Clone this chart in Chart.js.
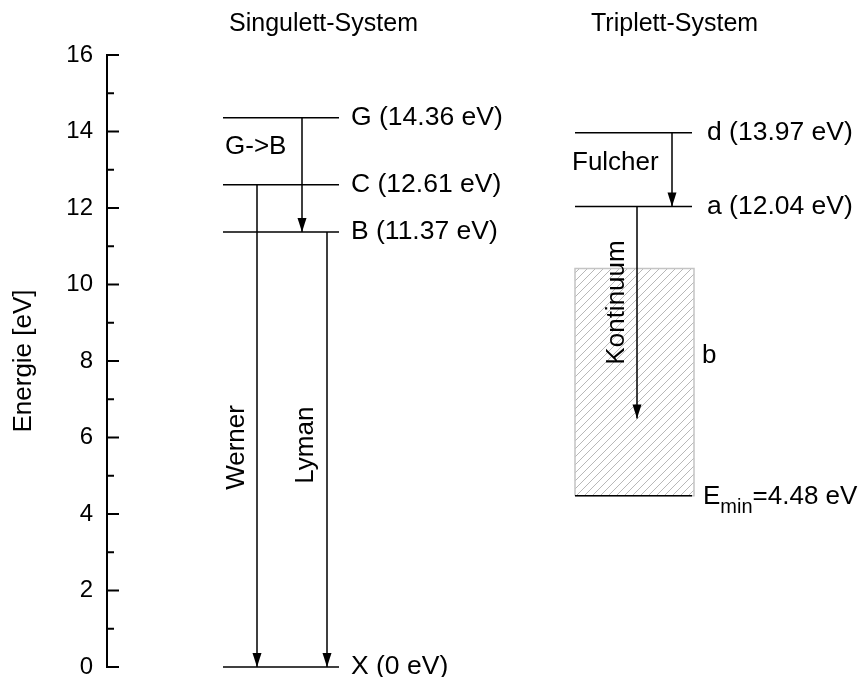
<!DOCTYPE html>
<html><head><meta charset="utf-8">
<script src="https://cdn.jsdelivr.net/npm/chart.js@4"></script>
<style>html,body{margin:0;padding:0;background:#fff}#wrap{width:866px;height:677px}</style>
</head><body><div id="wrap"><canvas id="c"></canvas></div>
<script>
// ---- data ----
const levelNames = ['G', 'C', 'B', 'X', 'd', 'a'];
const levelEnergies = [14.36, 12.61, 11.37, 0, 13.97, 12.04];
const levelSystems = ['S', 'S', 'S', 'S', 'T', 'T'];
const levelLabels = ['G (14.36 eV)', 'C (12.61 eV)', 'B (11.37 eV)', 'X (0 eV)', 'd (13.97 eV)', 'a (12.04 eV)'];
const transitionNames = ['Werner', 'Lyman', 'G->B', 'Fulcher', 'Kontinuum'];
const transitionFrom = [12.61, 11.37, 14.36, 13.97, 12.04];
const transitionTo = [0, 0, 11.37, 12.04, 6.5];
const continuumTop = [10.42];
const continuumBottom = [4.48];
const continuumLabel = 'b';
const eminLabel = ['E', 'min', '=4.48 eV'];
const yTickLabels = [0, 2, 4, 6, 8, 10, 12, 14, 16];
const systemTitles = ['Singulett-System', 'Triplett-System'];
const axisTitle = 'Energie [eV]';

// ---- layout (positions, in x-scale units) ----
const FONT = "'Liberation Sans', Arial, sans-serif";
const cols = {
  S: {left: 223, right: 339, label: 351},
  T: {left: 575, right: 692, label: 707}
};
const transitionX = [257, 327, 302, 672, 637];
const boxX = [575, 694];

// hatch pattern
function makeHatch() {
  const c = document.createElement('canvas');
  c.width = 8; c.height = 8;
  const g = c.getContext('2d');
  g.strokeStyle = '#b8b8b8';
  g.lineWidth = 1;
  g.beginPath();
  g.moveTo(0, 8); g.lineTo(8, 0);
  g.moveTo(-2, 2); g.lineTo(2, -2);
  g.moveTo(6, 10); g.lineTo(10, 6);
  g.stroke();
  return document.getElementById('c').getContext('2d').createPattern(c, 'repeat');
}

const datasets = [];
levelEnergies.forEach((e, i) => {
  const c = cols[levelSystems[i]];
  datasets.push({label: levelNames[i], data: [{x: c.left, y: e}, {x: c.right, y: e}],
    borderColor: '#000', borderWidth: 1.5, pointRadius: 0, fill: false, clip: false, order: 1});
});
transitionFrom.forEach((f, i) => {
  datasets.push({label: transitionNames[i], arrow: true,
    data: [{x: transitionX[i], y: f}, {x: transitionX[i], y: transitionTo[i]}],
    borderColor: '#000', borderWidth: 1.5, pointRadius: 0, fill: false, clip: false, order: 2});
});
// continuum box
datasets.push({label: 'continuum', data: [
    {x: boxX[0], y: continuumBottom[0]}, {x: boxX[0], y: continuumTop[0]},
    {x: boxX[1], y: continuumTop[0]}, {x: boxX[1], y: continuumBottom[0]},
    {x: boxX[0], y: continuumBottom[0]}],
  borderColor: '#c4c4c4', borderWidth: 1.5, pointRadius: 0, fill: 'shape',
  backgroundColor: makeHatch(), order: 5});
// Emin line
datasets.push({label: 'Emin', data: [{x: cols.T.left, y: continuumBottom[0]}, {x: cols.T.right, y: continuumBottom[0]}],
  borderColor: '#000', borderWidth: 1.5, pointRadius: 0, fill: false, order: 0});

const arrowPlugin = {
  id: 'arrows',
  afterDatasetsDraw(chart) {
    const ctx = chart.ctx;
    chart.data.datasets.forEach((ds, i) => {
      if (!ds.arrow) return;
      const meta = chart.getDatasetMeta(i);
      const p = meta.data[meta.data.length - 1];
      ctx.save();
      ctx.fillStyle = '#000';
      ctx.beginPath();
      ctx.moveTo(p.x, p.y);
      ctx.lineTo(p.x - 4.5, p.y - 14);
      ctx.lineTo(p.x + 4.5, p.y - 14);
      ctx.closePath();
      ctx.fill();
      ctx.restore();
    });
  }
};

const axisTickPlugin = {
  id: 'inTicks',
  afterDraw(chart) {
    const ys = chart.scales.y, ctx = chart.ctx, L = chart.chartArea.left;
    ctx.save();
    ctx.strokeStyle = '#000';
    ctx.lineWidth = 2;
    ys.ticks.forEach(t => {
      const py = ys.getPixelForValue(t.value);
      const len = yTickLabels.includes(t.value) ? 12 : 7;
      ctx.beginPath();
      ctx.moveTo(L, py); ctx.lineTo(L + len, py);
      ctx.stroke();
    });
    ctx.restore();
  }
};

const textPlugin = {
  id: 'texts',
  afterDraw(chart) {
    const ctx = chart.ctx, xs = chart.scales.x, ys = chart.scales.y;
    const X = v => xs.getPixelForValue(v), Y = v => ys.getPixelForValue(v);
    ctx.save();
    ctx.fillStyle = '#000';
    // system titles
    ctx.font = '25px ' + FONT;
    ctx.textBaseline = 'alphabetic';
    ctx.textAlign = 'left';
    ctx.fillText(systemTitles[0], X(229), chart.chartArea.top - 24);
    ctx.fillText(systemTitles[1], X(591), chart.chartArea.top - 24);
    // level labels
    ctx.font = '26.5px ' + FONT;
    ctx.textBaseline = 'middle';
    levelLabels.forEach((t, i) => {
      ctx.fillText(t, X(cols[levelSystems[i]].label), Y(levelEnergies[i]));
    });
    // horizontal transition labels
    ctx.font = '26px ' + FONT;
    ctx.fillText(transitionNames[2], X(225), Y(13.59));
    ctx.fillText(transitionNames[3], X(572), Y(13.19));
    ctx.fillText(continuumLabel, X(702), Y(8.14));
    // rotated labels
    const rot = (t, x, y) => {
      ctx.save(); ctx.translate(X(x), Y(y)); ctx.rotate(-Math.PI / 2);
      ctx.textAlign = 'center'; ctx.fillText(t, 0, 0); ctx.restore();
    };
    rot(transitionNames[0], 237, 5.74);
    rot(transitionNames[1], 306, 5.8);
    rot(transitionNames[4], 617, 9.53);
    // E_min
    ctx.textBaseline = 'alphabetic';
    let x = X(703);
    const yb = Y(continuumBottom[0]) + 8;
    ctx.fillText(eminLabel[0], x, yb); x += ctx.measureText(eminLabel[0]).width;
    ctx.font = '20px ' + FONT;
    ctx.fillText(eminLabel[1], x, yb + 9); x += ctx.measureText(eminLabel[1]).width;
    ctx.font = '26px ' + FONT;
    ctx.fillText(eminLabel[2], x, yb);
    ctx.restore();
  }
};

new Chart(document.getElementById('c'), {
  type: 'line',
  data: {datasets},
  options: {
    responsive: true, maintainAspectRatio: false, animation: false,
    layout: {padding: {top: 55, bottom: 10, left: 0, right: 0}},
    plugins: {legend: {display: false}, tooltip: {enabled: false}},
    scales: {
      x: {type: 'linear', display: false, min: 107, max: 866},
      y: {
        min: 0, max: 16,
        afterFit(s) { s.width = 107; },
        ticks: {stepSize: 1, autoSkip: false, padding: 0, color: '#000',
          font: {family: FONT, size: 24, lineHeight: 0.8},
          callback: v => yTickLabels.includes(v) ? String(v) : ''},
        grid: {display: false, drawTicks: true, tickLength: 14},
        border: {display: true, color: '#000', width: 2},
        title: {display: true, text: axisTitle, color: '#000',
          font: {family: FONT, size: 26, lineHeight: 1.2}, padding: {top: 8, bottom: 0}}
      }
    }
  },
  plugins: [arrowPlugin, axisTickPlugin, textPlugin]
});
</script></body></html>
